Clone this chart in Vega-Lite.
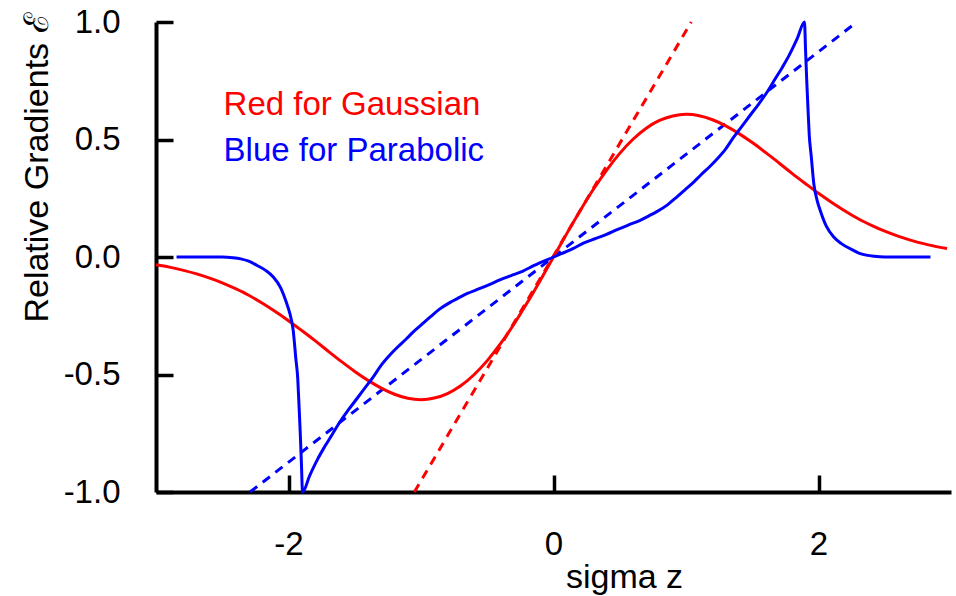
{
  "$schema": "https://vega.github.io/schema/vega-lite/v6.json",
  "width": 795,
  "height": 470,
  "autosize": "none",
  "padding": {"left": 156, "top": 22, "right": 5, "bottom": 104},
  "background": "white",
  "config": {
    "view": {"stroke": null},
    "font": "Liberation Sans",
    "axis": {
      "grid": false,
      "domainColor": "black",
      "domainWidth": 4,
      "tickColor": "black",
      "tickWidth": 3.5,
      "tickSize": -17,
      "labelFont": "Liberation Sans",
      "labelFontSize": 33,
      "labelColor": "black",
      "titleFont": "Liberation Sans",
      "titleFontSize": 34,
      "titleFontWeight": "normal",
      "titleColor": "black"
    }
  },
  "datasets": {
    "curves": [
      {"series": "Gaussian", "style": "asymptote", "z": -1.05, "E": -1.0},
      {"series": "Gaussian", "style": "asymptote", "z": 1.04, "E": 1.0},
      {"series": "Parabolic", "style": "asymptote", "z": -2.29, "E": -1.0},
      {"series": "Parabolic", "style": "asymptote", "z": 2.29, "E": 1.0},

      {"series": "Gaussian", "style": "profile", "z": -3.0, "E": -0.033},
      {"series": "Gaussian", "style": "profile", "z": -2.9, "E": -0.043},
      {"series": "Gaussian", "style": "profile", "z": -2.8, "E": -0.056},
      {"series": "Gaussian", "style": "profile", "z": -2.7, "E": -0.071},
      {"series": "Gaussian", "style": "profile", "z": -2.6, "E": -0.089},
      {"series": "Gaussian", "style": "profile", "z": -2.5, "E": -0.110},
      {"series": "Gaussian", "style": "profile", "z": -2.4, "E": -0.135},
      {"series": "Gaussian", "style": "profile", "z": -2.3, "E": -0.163},
      {"series": "Gaussian", "style": "profile", "z": -2.2, "E": -0.196},
      {"series": "Gaussian", "style": "profile", "z": -2.1, "E": -0.232},
      {"series": "Gaussian", "style": "profile", "z": -2.0, "E": -0.271},
      {"series": "Gaussian", "style": "profile", "z": -1.9, "E": -0.313},
      {"series": "Gaussian", "style": "profile", "z": -1.8, "E": -0.356},
      {"series": "Gaussian", "style": "profile", "z": -1.7, "E": -0.401},
      {"series": "Gaussian", "style": "profile", "z": -1.6, "E": -0.445},
      {"series": "Gaussian", "style": "profile", "z": -1.5, "E": -0.487},
      {"series": "Gaussian", "style": "profile", "z": -1.4, "E": -0.525},
      {"series": "Gaussian", "style": "profile", "z": -1.3, "E": -0.558},
      {"series": "Gaussian", "style": "profile", "z": -1.2, "E": -0.584},
      {"series": "Gaussian", "style": "profile", "z": -1.1, "E": -0.601},
      {"series": "Gaussian", "style": "profile", "z": -1.0, "E": -0.607},
      {"series": "Gaussian", "style": "profile", "z": -0.9, "E": -0.600},
      {"series": "Gaussian", "style": "profile", "z": -0.8, "E": -0.581},
      {"series": "Gaussian", "style": "profile", "z": -0.7, "E": -0.548},
      {"series": "Gaussian", "style": "profile", "z": -0.6, "E": -0.501},
      {"series": "Gaussian", "style": "profile", "z": -0.5, "E": -0.441},
      {"series": "Gaussian", "style": "profile", "z": -0.4, "E": -0.369},
      {"series": "Gaussian", "style": "profile", "z": -0.3, "E": -0.287},
      {"series": "Gaussian", "style": "profile", "z": -0.2, "E": -0.196},
      {"series": "Gaussian", "style": "profile", "z": -0.1, "E": -0.0995},
      {"series": "Gaussian", "style": "profile", "z": 0.0, "E": 0.0},
      {"series": "Gaussian", "style": "profile", "z": 0.1, "E": 0.0995},
      {"series": "Gaussian", "style": "profile", "z": 0.2, "E": 0.196},
      {"series": "Gaussian", "style": "profile", "z": 0.3, "E": 0.287},
      {"series": "Gaussian", "style": "profile", "z": 0.4, "E": 0.369},
      {"series": "Gaussian", "style": "profile", "z": 0.5, "E": 0.441},
      {"series": "Gaussian", "style": "profile", "z": 0.6, "E": 0.501},
      {"series": "Gaussian", "style": "profile", "z": 0.7, "E": 0.548},
      {"series": "Gaussian", "style": "profile", "z": 0.8, "E": 0.581},
      {"series": "Gaussian", "style": "profile", "z": 0.9, "E": 0.600},
      {"series": "Gaussian", "style": "profile", "z": 1.0, "E": 0.607},
      {"series": "Gaussian", "style": "profile", "z": 1.1, "E": 0.601},
      {"series": "Gaussian", "style": "profile", "z": 1.2, "E": 0.584},
      {"series": "Gaussian", "style": "profile", "z": 1.3, "E": 0.558},
      {"series": "Gaussian", "style": "profile", "z": 1.4, "E": 0.525},
      {"series": "Gaussian", "style": "profile", "z": 1.5, "E": 0.487},
      {"series": "Gaussian", "style": "profile", "z": 1.6, "E": 0.445},
      {"series": "Gaussian", "style": "profile", "z": 1.7, "E": 0.401},
      {"series": "Gaussian", "style": "profile", "z": 1.8, "E": 0.356},
      {"series": "Gaussian", "style": "profile", "z": 1.9, "E": 0.313},
      {"series": "Gaussian", "style": "profile", "z": 2.0, "E": 0.271},
      {"series": "Gaussian", "style": "profile", "z": 2.1, "E": 0.232},
      {"series": "Gaussian", "style": "profile", "z": 2.2, "E": 0.196},
      {"series": "Gaussian", "style": "profile", "z": 2.3, "E": 0.163},
      {"series": "Gaussian", "style": "profile", "z": 2.4, "E": 0.135},
      {"series": "Gaussian", "style": "profile", "z": 2.5, "E": 0.110},
      {"series": "Gaussian", "style": "profile", "z": 2.6, "E": 0.089},
      {"series": "Gaussian", "style": "profile", "z": 2.7, "E": 0.071},
      {"series": "Gaussian", "style": "profile", "z": 2.8, "E": 0.056},
      {"series": "Gaussian", "style": "profile", "z": 2.9, "E": 0.043},
      {"series": "Gaussian", "style": "profile", "z": 2.97, "E": 0.036},

      {"series": "Parabolic", "style": "profile", "z": -2.845, "E": 0.0},
      {"series": "Parabolic", "style": "profile", "z": -2.5, "E": 0.0},
      {"series": "Parabolic", "style": "profile", "z": -2.42, "E": -0.003},
      {"series": "Parabolic", "style": "profile", "z": -2.36, "E": -0.008},
      {"series": "Parabolic", "style": "profile", "z": -2.3, "E": -0.018},
      {"series": "Parabolic", "style": "profile", "z": -2.24, "E": -0.035},
      {"series": "Parabolic", "style": "profile", "z": -2.17, "E": -0.058},
      {"series": "Parabolic", "style": "profile", "z": -2.115, "E": -0.085},
      {"series": "Parabolic", "style": "profile", "z": -2.06, "E": -0.13},
      {"series": "Parabolic", "style": "profile", "z": -2.015, "E": -0.195},
      {"series": "Parabolic", "style": "profile", "z": -1.99, "E": -0.24},
      {"series": "Parabolic", "style": "profile", "z": -1.965, "E": -0.31},
      {"series": "Parabolic", "style": "profile", "z": -1.945, "E": -0.43},
      {"series": "Parabolic", "style": "profile", "z": -1.93, "E": -0.52},
      {"series": "Parabolic", "style": "profile", "z": -1.92, "E": -0.64},
      {"series": "Parabolic", "style": "profile", "z": -1.912, "E": -0.74},
      {"series": "Parabolic", "style": "profile", "z": -1.903, "E": -0.87},
      {"series": "Parabolic", "style": "profile", "z": -1.894, "E": -1.0},
      {"series": "Parabolic", "style": "profile", "z": -1.84, "E": -0.93},
      {"series": "Parabolic", "style": "profile", "z": -1.78, "E": -0.86},
      {"series": "Parabolic", "style": "profile", "z": -1.73, "E": -0.81},
      {"series": "Parabolic", "style": "profile", "z": -1.67, "E": -0.755},
      {"series": "Parabolic", "style": "profile", "z": -1.61, "E": -0.70},
      {"series": "Parabolic", "style": "profile", "z": -1.55, "E": -0.652},
      {"series": "Parabolic", "style": "profile", "z": -1.48, "E": -0.60},
      {"series": "Parabolic", "style": "profile", "z": -1.42, "E": -0.555},
      {"series": "Parabolic", "style": "profile", "z": -1.36, "E": -0.51},
      {"series": "Parabolic", "style": "profile", "z": -1.3, "E": -0.46},
      {"series": "Parabolic", "style": "profile", "z": -1.24, "E": -0.42},
      {"series": "Parabolic", "style": "profile", "z": -1.18, "E": -0.385},
      {"series": "Parabolic", "style": "profile", "z": -1.11, "E": -0.348},
      {"series": "Parabolic", "style": "profile", "z": -1.06, "E": -0.32},
      {"series": "Parabolic", "style": "profile", "z": -1.0, "E": -0.29},
      {"series": "Parabolic", "style": "profile", "z": -0.93, "E": -0.255},
      {"series": "Parabolic", "style": "profile", "z": -0.86, "E": -0.222},
      {"series": "Parabolic", "style": "profile", "z": -0.78, "E": -0.193},
      {"series": "Parabolic", "style": "profile", "z": -0.72, "E": -0.175},
      {"series": "Parabolic", "style": "profile", "z": -0.65, "E": -0.155},
      {"series": "Parabolic", "style": "profile", "z": -0.56, "E": -0.135},
      {"series": "Parabolic", "style": "profile", "z": -0.48, "E": -0.116},
      {"series": "Parabolic", "style": "profile", "z": -0.4, "E": -0.096},
      {"series": "Parabolic", "style": "profile", "z": -0.32, "E": -0.079},
      {"series": "Parabolic", "style": "profile", "z": -0.23, "E": -0.06},
      {"series": "Parabolic", "style": "profile", "z": -0.15, "E": -0.037},
      {"series": "Parabolic", "style": "profile", "z": 0.0, "E": 0.0},
      {"series": "Parabolic", "style": "profile", "z": 0.15, "E": 0.037},
      {"series": "Parabolic", "style": "profile", "z": 0.23, "E": 0.06},
      {"series": "Parabolic", "style": "profile", "z": 0.32, "E": 0.079},
      {"series": "Parabolic", "style": "profile", "z": 0.4, "E": 0.096},
      {"series": "Parabolic", "style": "profile", "z": 0.48, "E": 0.116},
      {"series": "Parabolic", "style": "profile", "z": 0.56, "E": 0.135},
      {"series": "Parabolic", "style": "profile", "z": 0.65, "E": 0.155},
      {"series": "Parabolic", "style": "profile", "z": 0.72, "E": 0.175},
      {"series": "Parabolic", "style": "profile", "z": 0.78, "E": 0.193},
      {"series": "Parabolic", "style": "profile", "z": 0.86, "E": 0.222},
      {"series": "Parabolic", "style": "profile", "z": 0.93, "E": 0.255},
      {"series": "Parabolic", "style": "profile", "z": 1.0, "E": 0.29},
      {"series": "Parabolic", "style": "profile", "z": 1.06, "E": 0.32},
      {"series": "Parabolic", "style": "profile", "z": 1.11, "E": 0.348},
      {"series": "Parabolic", "style": "profile", "z": 1.18, "E": 0.385},
      {"series": "Parabolic", "style": "profile", "z": 1.24, "E": 0.42},
      {"series": "Parabolic", "style": "profile", "z": 1.3, "E": 0.46},
      {"series": "Parabolic", "style": "profile", "z": 1.36, "E": 0.51},
      {"series": "Parabolic", "style": "profile", "z": 1.42, "E": 0.555},
      {"series": "Parabolic", "style": "profile", "z": 1.48, "E": 0.60},
      {"series": "Parabolic", "style": "profile", "z": 1.55, "E": 0.652},
      {"series": "Parabolic", "style": "profile", "z": 1.61, "E": 0.70},
      {"series": "Parabolic", "style": "profile", "z": 1.67, "E": 0.755},
      {"series": "Parabolic", "style": "profile", "z": 1.73, "E": 0.81},
      {"series": "Parabolic", "style": "profile", "z": 1.78, "E": 0.86},
      {"series": "Parabolic", "style": "profile", "z": 1.84, "E": 0.93},
      {"series": "Parabolic", "style": "profile", "z": 1.894, "E": 1.0},
      {"series": "Parabolic", "style": "profile", "z": 1.903, "E": 0.87},
      {"series": "Parabolic", "style": "profile", "z": 1.912, "E": 0.74},
      {"series": "Parabolic", "style": "profile", "z": 1.92, "E": 0.64},
      {"series": "Parabolic", "style": "profile", "z": 1.93, "E": 0.52},
      {"series": "Parabolic", "style": "profile", "z": 1.945, "E": 0.43},
      {"series": "Parabolic", "style": "profile", "z": 1.965, "E": 0.31},
      {"series": "Parabolic", "style": "profile", "z": 1.99, "E": 0.24},
      {"series": "Parabolic", "style": "profile", "z": 2.015, "E": 0.195},
      {"series": "Parabolic", "style": "profile", "z": 2.06, "E": 0.13},
      {"series": "Parabolic", "style": "profile", "z": 2.115, "E": 0.085},
      {"series": "Parabolic", "style": "profile", "z": 2.17, "E": 0.058},
      {"series": "Parabolic", "style": "profile", "z": 2.24, "E": 0.035},
      {"series": "Parabolic", "style": "profile", "z": 2.3, "E": 0.018},
      {"series": "Parabolic", "style": "profile", "z": 2.36, "E": 0.008},
      {"series": "Parabolic", "style": "profile", "z": 2.42, "E": 0.003},
      {"series": "Parabolic", "style": "profile", "z": 2.5, "E": 0.0},
      {"series": "Parabolic", "style": "profile", "z": 2.845, "E": 0.0}
    ],
    "notes": [
      {"series": "Gaussian", "z": -2.49, "E": 0.603, "label": "Red for Gaussian"},
      {"series": "Parabolic", "z": -2.49, "E": 0.407, "label": "Blue for Parabolic"}
    ]
  },
  "encoding": {
    "x": {
      "field": "z",
      "type": "quantitative",
      "scale": {"domain": [-3, 3], "nice": false, "zero": false},
      "axis": {
        "orient": "bottom",
        "values": [-2, 0, 2],
        "labelExpr": "(datum.value < 0 ? '-' : '') + format(abs(datum.value), 'd')",
        "labelBaseline": "alphabetic",
        "labelPadding": 79,
        "labelDx": 5,
        "title": "sigma z",
        "titleAngle": 0,
        "titleAlign": "center",
        "titleBaseline": "alphabetic",
        "titleX": 468,
        "titleY": 95
      }
    },
    "y": {
      "field": "E",
      "type": "quantitative",
      "scale": {"domain": [-1, 1], "nice": false, "zero": false},
      "axis": {
        "orient": "left",
        "values": [-1, -0.5, 0, 0.5, 1],
        "labelExpr": "(datum.value < 0 ? '-' : '') + format(abs(datum.value), '.1f')",
        "labelPadding": 53,
        "title": "Relative Gradients ℰ",
        "titleAngle": -90,
        "titleAlign": "center",
        "titleBaseline": "alphabetic",
        "titleX": -109,
        "titleY": 145
      }
    },
    "color": {
      "field": "series",
      "type": "nominal",
      "scale": {"domain": ["Gaussian", "Parabolic"], "range": ["#ff0000", "#0000ff"]},
      "legend": null
    }
  },
  "layer": [
    {
      "mark": {"type": "rule", "color": "black", "strokeWidth": 3},
      "encoding": {"y": {"datum": 0}, "color": {"value": "black"}}
    },
    {
      "data": {"name": "curves"},
      "transform": [{"filter": "datum.style === 'asymptote'"}],
      "mark": {"type": "line", "strokeWidth": 3, "strokeDash": [9, 7]}
    },
    {
      "data": {"name": "curves"},
      "transform": [{"filter": "datum.style === 'profile' && datum.series === 'Gaussian'"}],
      "mark": {"type": "line", "strokeWidth": 3, "interpolate": "monotone"}
    },
    {
      "data": {"name": "curves"},
      "transform": [{"filter": "datum.style === 'profile' && datum.series === 'Parabolic'"}],
      "mark": {"type": "line", "strokeWidth": 3, "interpolate": "monotone"}
    },
    {
      "data": {"name": "notes"},
      "mark": {"type": "text", "align": "left", "baseline": "alphabetic", "font": "Liberation Sans", "fontSize": 33},
      "encoding": {"text": {"field": "label"}}
    }
  ]
}
